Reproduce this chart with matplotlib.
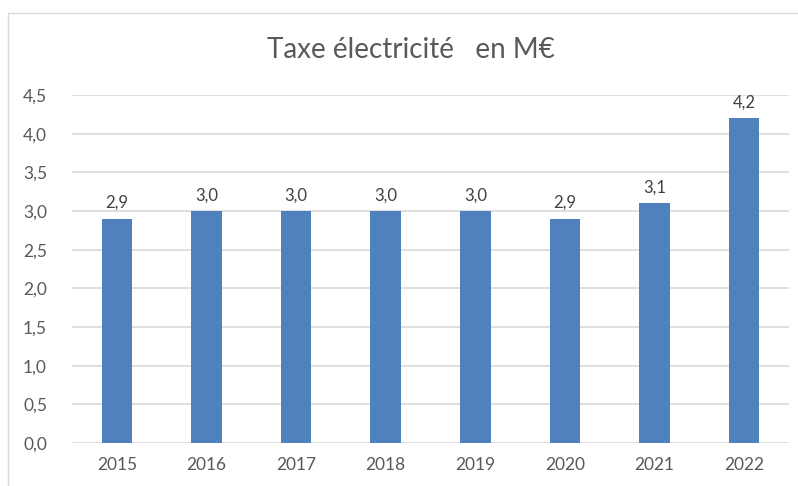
import matplotlib
matplotlib.use('Agg')
from matplotlib import pyplot as plt
from matplotlib.patches import Rectangle

years = ['2015', '2016', '2017', '2018', '2019', '2020', '2021', '2022']
taxe = [2.9, 3.0, 3.0, 3.0, 3.0, 2.9, 3.1, 4.2]
yticks = [0.0, 0.5, 1.0, 1.5, 2.0, 2.5, 3.0, 3.5, 4.0, 4.5]

plt.rcParams['font.family'] = ['Lato', 'DejaVu Sans']

W, H = 798, 486
fig = plt.figure(figsize=(W/100, H/100), dpi=100)
# chart border (runs off the right and bottom edge)
fig.patches.append(Rectangle((8/W, -0.1), 1.1, 1 - 13/H + 0.1, transform=fig.transFigure,
                             fill=False, edgecolor='#d9d9d9', linewidth=1))

ax = fig.add_axes([72/W, 1 - 443/H, (789-72)/W, (443-95)/H])
x = range(len(years))
bars = ax.bar(x, taxe, width=0.34, color='#4f81bd', zorder=3)
for xi, v in zip(x, taxe):
    ax.text(xi, v + 0.1, ('%.1f' % v).replace('.', ','), ha='center', va='bottom',
            fontsize=12, color='#404040')

ax.set_xlim(-0.5, len(years) - 0.5)
ax.set_ylim(0, 4.5)
ax.set_yticks(yticks)
ax.set_yticklabels([('%.1f' % t).replace('.', ',') for t in yticks])
ax.set_xticks(list(x))
ax.set_xticklabels(years)
ax.grid(axis='y', color='#d9d9d9', linewidth=1.2, zorder=0)
for s in ax.spines.values():
    s.set_visible(False)
ax.tick_params(length=0, labelsize=12.5, labelcolor='#595959')
ax.tick_params(axis='y', pad=18)
ax.tick_params(axis='x', pad=10)

fig.text(411/W, 1 - 50/H, 'Taxe électricité   en M€', ha='center', va='center',
         fontsize=20, color='#595959')

fig.savefig('out.png', dpi=100)
